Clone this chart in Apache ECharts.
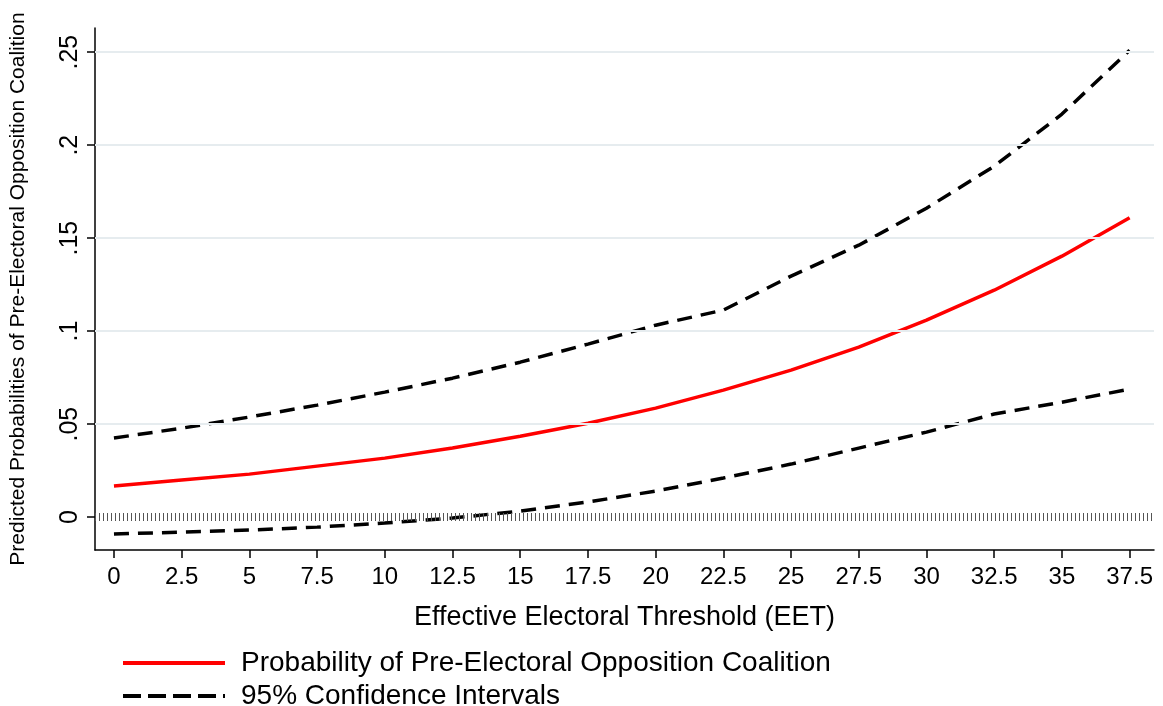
<!DOCTYPE html>
<html><head><meta charset="utf-8">
<script src="https://cdn.jsdelivr.net/npm/echarts@6/dist/echarts.min.js"></script>
<style>html,body{margin:0;padding:0;background:#fff}#c{width:1163px;height:706px}</style>
</head><body><div id="c"></div>
<script>
const eet = [0,2.5,5,7.5,10,12.5,15,17.5,20,22.5,25,27.5,30,32.5,35,37.5];
const prob = [0.0167,0.0199,0.0231,0.0274,0.0317,0.0371,0.0435,0.0505,0.0586,0.0683,0.0790,0.0914,0.1059,0.1220,0.1403,0.1610];
const upper = [0.0425,0.0478,0.0538,0.0602,0.0672,0.0747,0.0833,0.0930,0.1032,0.1113,0.1296,0.1462,0.1661,0.1887,0.2167,0.2510];
const lower = [-0.0091,-0.0081,-0.0070,-0.0054,-0.0032,-0.0005,0.0032,0.0081,0.0140,0.0210,0.0285,0.0371,0.0457,0.0554,0.0618,0.0688];
const yTicks = [0,0.05,0.1,0.15,0.2,0.25];
const yTickLabels = ['0','.05','.1','.15','.2','.25'];
const xTitle = 'Effective Electoral Threshold (EET)';
const yTitle = 'Predicted Probabilities of Pre-Electoral Opposition Coalition';
const probName = 'Probability of Pre-Electoral Opposition Coalition';
const ciName = '95% Confidence Intervals';

const FONT = '"Liberation Sans",Arial,sans-serif';
const NARROW = '"Liberation Sans Narrow","Liberation Sans",sans-serif';
const pair = a => eet.map((x,i)=>[x,a[i]]);
const solidIcon = 'path://M0,0H102V4H0Z';
const dashIcon = 'path://M0,0H18V4H0Z M25,0H43V4H25Z M50,0H68V4H50Z M75,0H93V4H75Z M100,0H102V4H100Z';
const legendBase = {orient:'vertical',left:118,itemWidth:102,itemHeight:4,
  textStyle:{fontFamily:FONT,fontSize:28,color:'#000',padding:[0,0,0,11]}};
const chart = echarts.init(document.getElementById('c'));
chart.setOption({
  animation:false,
  backgroundColor:'#fff',
  grid:{left:93,right:9,top:28,bottom:156,containLabel:false},
  xAxis:{type:'value',min:-0.7,max:38.4,
    name:xTitle,nameLocation:'middle',nameGap:54,
    nameTextStyle:{fontFamily:FONT,fontSize:27,color:'#000'},
    axisLine:{onZero:false,lineStyle:{color:'#000',width:1.5}},
    axisTick:{show:true,length:8,lineStyle:{color:'#000',width:1.5},customValues:eet},
    axisLabel:{fontFamily:FONT,fontSize:24,color:'#000',margin:15,customValues:eet,formatter:v=>String(v)},
    splitLine:{show:false}},
  yAxis:{type:'value',min:-0.0177,max:0.263,
    name:yTitle,nameLocation:'middle',nameGap:66,
    nameTextStyle:{fontFamily:NARROW,fontSize:21,color:'#000'},
    axisLine:{show:true,onZero:false,lineStyle:{color:'#000',width:1.5}},
    axisTick:{show:true,length:8,lineStyle:{color:'#000',width:1.5},customValues:yTicks},
    axisLabel:{rotate:90,fontFamily:FONT,fontSize:25,color:'#000',margin:12,customValues:yTicks,
      formatter:v=>{const i=yTicks.findIndex(t=>Math.abs(t-v)<1e-9);return i>=0?yTickLabels[i]:'';}},
    splitLine:{show:false}},
  legend:[
    Object.assign({top:644,data:[{name:probName,icon:solidIcon}]},legendBase),
    Object.assign({top:677,data:[{name:ciName,icon:dashIcon}]},legendBase)
  ],
  series:[
    {type:'line',name:'grid',data:[],silent:true,z:1,
      markLine:{silent:true,symbol:['none','none'],label:{show:false},animation:false,
        lineStyle:{color:'#e6ecef',width:2,type:'solid'},
        data:yTicks.slice(1).map(v=>({yAxis:v}))}},
    {type:'line',name:'zero',data:[],silent:true,z:2,
      markLine:{silent:true,symbol:['none','none'],label:{show:false},animation:false,
        lineStyle:{color:'#555',width:8,type:[1,3]},
        data:[{yAxis:0}]}},
    {type:'line',name:ciName,data:pair(upper),symbol:'none',z:3,
      lineStyle:{color:'#000',width:3.5,type:[15,9]},itemStyle:{color:'#000'}},
    {type:'line',name:ciName,data:pair(lower),symbol:'none',z:3,
      lineStyle:{color:'#000',width:3.5,type:[15,9]},itemStyle:{color:'#000'}},
    {type:'line',name:probName,data:pair(prob),symbol:'none',z:4,
      lineStyle:{color:'#ff0000',width:3.5},itemStyle:{color:'#ff0000'}}
  ]
});
</script></body></html>
